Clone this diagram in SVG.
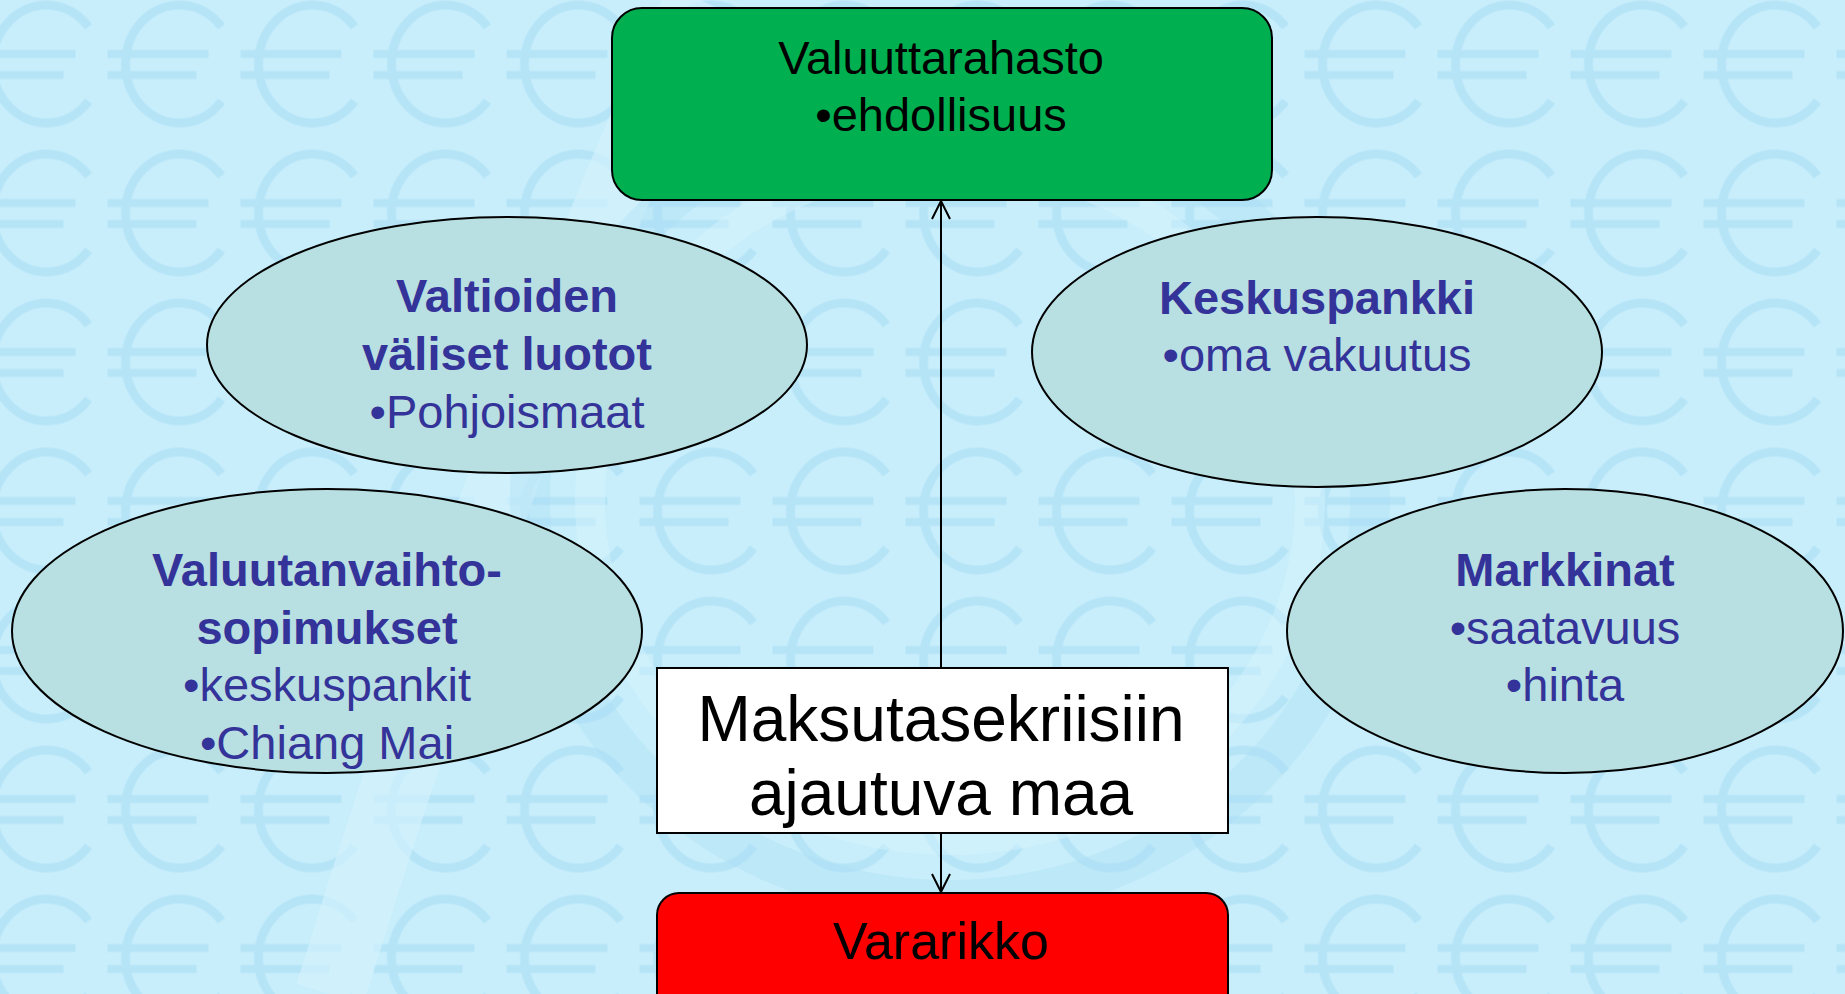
<svg xmlns="http://www.w3.org/2000/svg" width="1845" height="994" viewBox="0 0 1845 994">
<style>
  .t { font-family: "Liberation Sans", Arial, sans-serif; text-anchor: middle; }
  .blk { fill: #000000; }
  .blue { fill: #333399; }
  .b { font-weight: bold; }
  .ell { fill: #B8DFE1; stroke: #000000; stroke-width: 2; }
  .conn { stroke: #000000; stroke-width: 2; fill: none; }
</style>
<defs>
  <pattern id="euro" x="-25.5" y="-10.5" width="133" height="149" patternUnits="userSpaceOnUse">
    <path d="M114,37.4 A54,59 0 1 0 114,111.6" fill="none" stroke="#B6E4F7" stroke-width="9"/>
    <line x1="0" y1="64.5" x2="101" y2="64.5" stroke="#B6E4F7" stroke-width="8"/>
    <line x1="0" y1="85.5" x2="89" y2="85.5" stroke="#B6E4F7" stroke-width="8"/>
  </pattern>
  <marker id="arr" viewBox="0 0 20 20" refX="19" refY="10" markerWidth="20" markerHeight="20" markerUnits="userSpaceOnUse" orient="auto">
    <path d="M1,1 L19,10 L1,19" fill="none" stroke="#000000" stroke-width="2"/>
  </marker>
</defs>
<g id="background">
  <rect x="0" y="0" width="1845" height="994" fill="#C8EEFB"/>
  <rect x="0" y="0" width="1845" height="994" fill="url(#euro)"/>
  <path d="M330,994 C420,700 560,300 700,0" fill="none" stroke="#D6F3FD" stroke-width="70" opacity="0.6"/>
  <ellipse cx="950" cy="500" rx="420" ry="400" fill="none" stroke="#A9DEF3" stroke-width="40" opacity="0.35"/>
  <ellipse cx="950" cy="500" rx="360" ry="340" fill="none" stroke="#D9F4FD" stroke-width="30" opacity="0.4"/>
</g>
<g id="connectors">
  <line class="conn" x1="941" y1="668" x2="941" y2="201" marker-end="url(#arr)"/>
  <line class="conn" x1="941" y1="833" x2="941" y2="892" marker-end="url(#arr)"/>
</g>
<g id="node-valuuttarahasto">
  <rect x="612" y="8" width="660" height="192" rx="30" ry="30" fill="#00B050" stroke="#000000" stroke-width="2"/>
  <text class="t blk" x="941" y="74" font-size="47">Valuuttarahasto</text>
  <text class="t blk" x="941" y="131" font-size="47">•ehdollisuus</text>
</g>
<g id="node-valtioiden">
  <ellipse class="ell" cx="507" cy="345" rx="300" ry="128"/>
  <text class="t blue b" x="507" y="312" font-size="47">Valtioiden</text>
  <text class="t blue b" x="507" y="370" font-size="47">väliset luotot</text>
  <text class="t blue" x="507" y="428" font-size="47">•Pohjoismaat</text>
</g>
<g id="node-keskuspankki">
  <ellipse class="ell" cx="1317" cy="352" rx="285" ry="135"/>
  <text class="t blue b" x="1317" y="314" font-size="47">Keskuspankki</text>
  <text class="t blue" x="1317" y="371" font-size="47">•oma vakuutus</text>
</g>
<g id="node-valuutanvaihto">
  <ellipse class="ell" cx="327" cy="631" rx="315" ry="142"/>
  <text class="t blue b" x="327" y="586" font-size="47">Valuutanvaihto-</text>
  <text class="t blue b" x="327" y="644" font-size="47">sopimukset</text>
  <text class="t blue" x="327" y="701" font-size="47">•keskuspankit</text>
  <text class="t blue" x="327" y="759" font-size="47">•Chiang Mai</text>
</g>
<g id="node-markkinat">
  <ellipse class="ell" cx="1565" cy="631" rx="278" ry="142"/>
  <text class="t blue b" x="1565" y="586" font-size="47">Markkinat</text>
  <text class="t blue" x="1565" y="644" font-size="47">•saatavuus</text>
  <text class="t blue" x="1565" y="701" font-size="47">•hinta</text>
</g>
<g id="node-maksutase">
  <rect x="657" y="668" width="571" height="165" fill="#FFFFFF" stroke="#000000" stroke-width="2"/>
  <text class="t blk" x="941" y="741" font-size="64">Maksutasekriisiin</text>
  <text class="t blk" x="941" y="815" font-size="64">ajautuva maa</text>
</g>
<g id="node-vararikko">
  <rect x="657" y="893" width="571" height="130" rx="22" ry="22" fill="#FF0000" stroke="#000000" stroke-width="2"/>
  <text class="t blk" x="941" y="959" font-size="52">Vararikko</text>
</g>
</svg>
